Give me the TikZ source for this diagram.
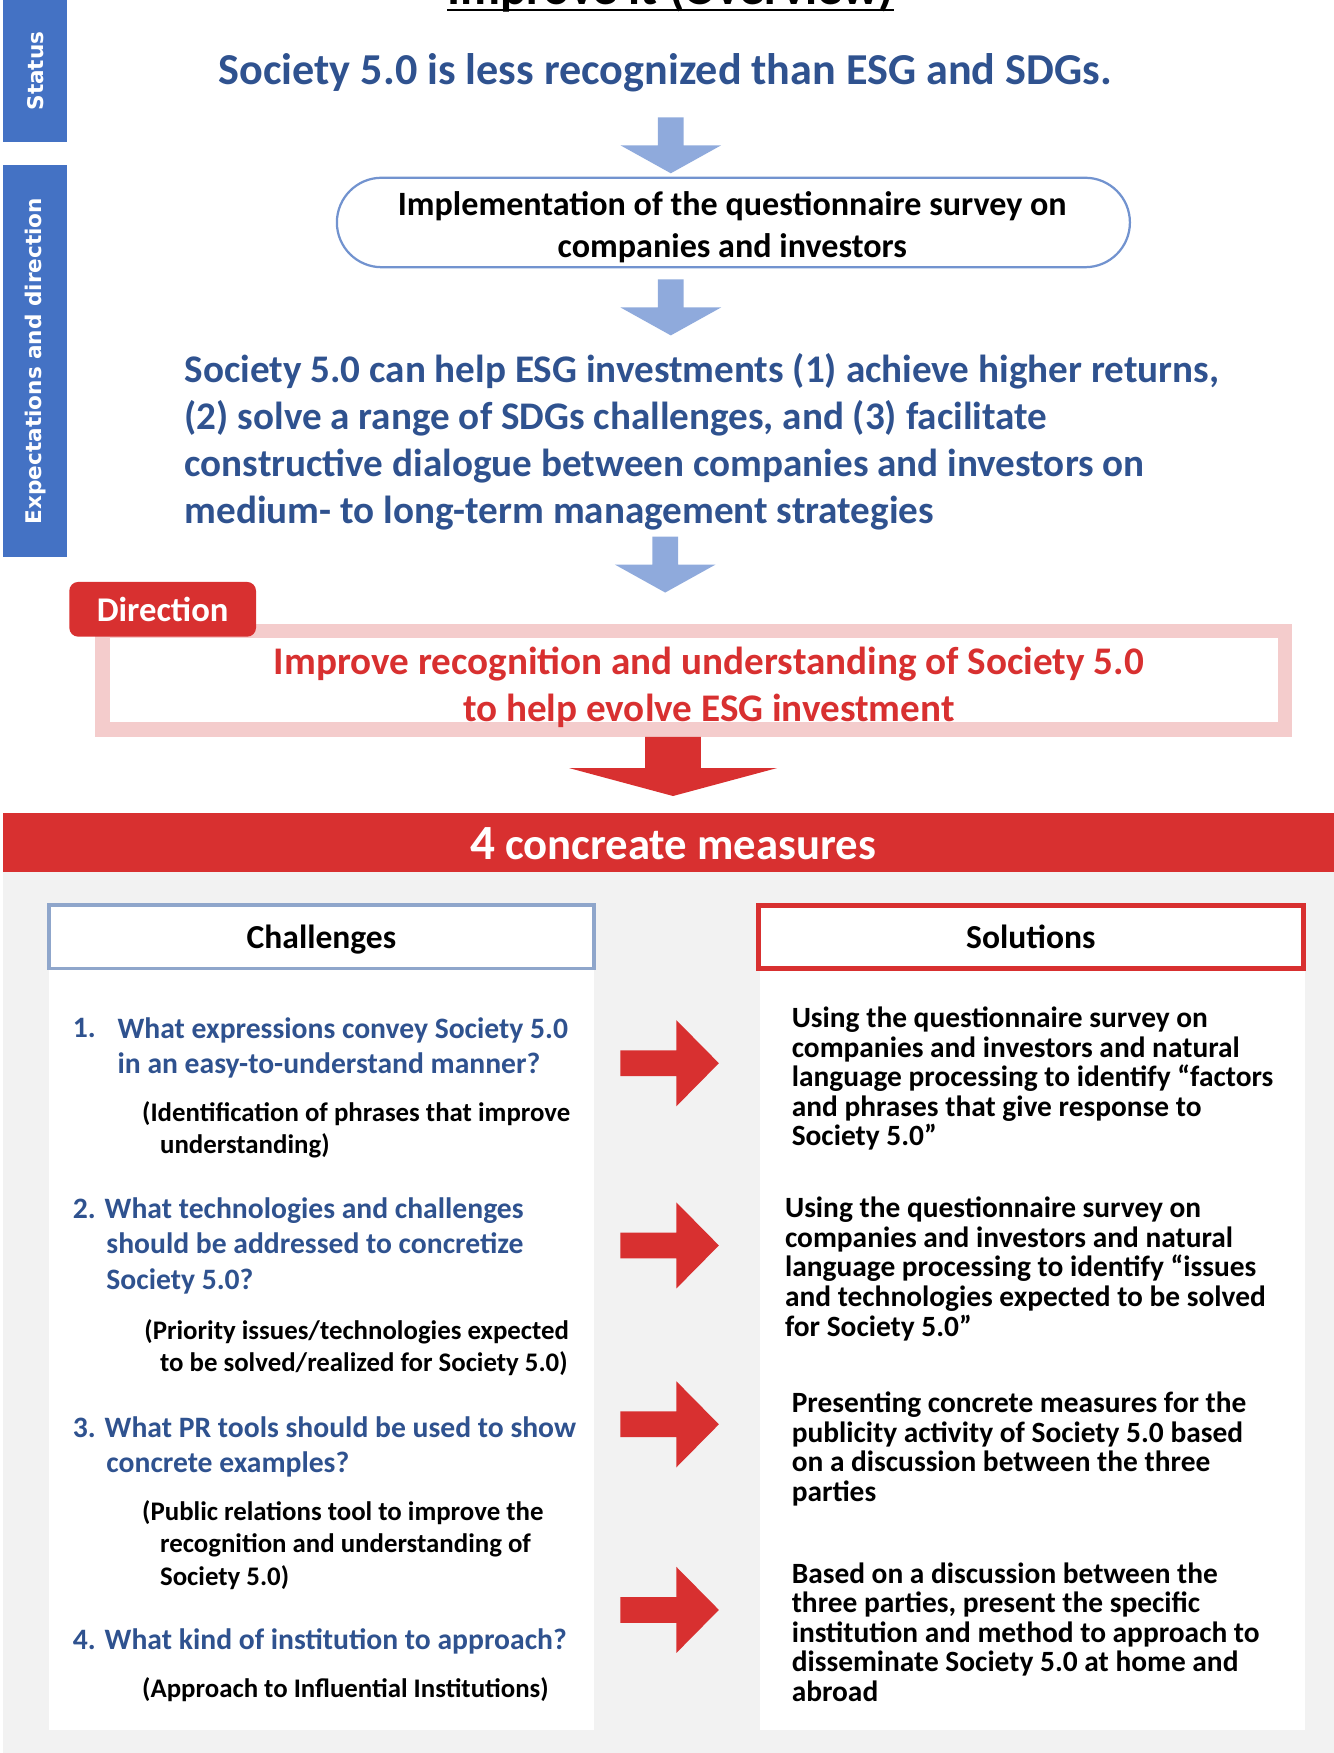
\documentclass[tikz,border=0pt]{standalone}
\usepackage{fontspec}
\setmainfont{Carlito}
\newfontfamily\barfont{DejaVu Sans}
\usepackage{xcolor}
\usepackage{tikz}
\usetikzlibrary{shapes.misc}

\definecolor{barblue}{RGB}{68,114,196}
\definecolor{txtblue}{RGB}{47,82,143}
\definecolor{arrowblue}{RGB}{143,170,220}
\definecolor{ovalblue}{RGB}{114,147,207}
\definecolor{mainred}{RGB}{216,48,48}
\definecolor{pinkline}{RGB}{244,204,204}
\definecolor{bggray}{RGB}{242,242,242}
\definecolor{headblue}{RGB}{143,166,203}

% multi-line nodes sit on the baseline of their last line
\tikzset{
  sidebar/.style={fill=barblue, text=white, rotate=90, minimum height=57pt, inner sep=0pt, font=\barfont\bfseries\fontsize{19.3}{21}\selectfont},
  bigline/.style={text=txtblue, inner sep=0pt, align=left, anchor=base west, font=\bfseries\fontsize{35}{42}\selectfont},
  item/.style={text=txtblue, inner sep=0pt, align=left, anchor=base west, font=\bfseries\fontsize{26.5}{31.5}\selectfont},
  note/.style={inner sep=0pt, align=left, anchor=base west, font=\bfseries\fontsize{24}{29}\selectfont},
  answer/.style={inner sep=0pt, align=left, anchor=base west, font=\bfseries\fontsize{26.3}{26.5}\selectfont},
  header/.style={draw, line width=3.5pt, fill=white, minimum width=487.5pt, minimum height=56.5pt, text depth=0pt, font=\bfseries\fontsize{30}{34}\selectfont}
}

\begin{document}
\begin{tikzpicture}[x=1pt, y=-1pt]
    \useasboundingbox (0,0) rectangle (1193,1568);
    \clip (0,0) rectangle (1193,1568);

    % title, cut at the top edge
    \node [anchor=base, inner sep=0pt, font=\bfseries\fontsize{44}{50}\selectfont] (title) at (600,4) {Improve it (Overview)};
    \draw [line width=2.5pt] ([yshift=-5pt]title.base west) -- ([yshift=-5pt]title.base east);

    % side bars
    \node [sidebar, minimum width=127pt] (status) at (31.5,63.5) {Status};
    \node [sidebar, minimum width=350pt] (expect) at (31.5,323) {Expectations and direction};

    % status and expectations
    \node [text=txtblue, anchor=base, inner sep=0pt, font=\bfseries\fontsize{39.5}{44}\selectfont] (now) at (595,76) {Society 5.0 is less recognized than ESG and SDGs.};
    \node [draw=ovalblue, line width=2pt, rounded rectangle, fill=white, minimum width=716pt, minimum height=80pt] (survey) at (656,199) {};
    \node [align=center, inner sep=0pt, anchor=base, font=\bfseries\fontsize{30.5}{37}\selectfont] (surveytext) at (655,230) {Implementation of the questionnaire survey on\\companies and investors};
    \node [bigline] (hope) at (165,468) {Society 5.0 can help ESG investments (1) achieve higher returns,\\(2) solve a range of SDGs challenges, and (3) facilitate\\constructive dialogue between companies and investors on\\medium- to long-term management strategies};

    % blue down arrows (tips)
    \coordinate (a1) at (600,155);
    \coordinate (a2) at (600,300);
    \coordinate (a3) at (595,530);
    \foreach \t in {a1,a2,a3}
        \fill [arrowblue] (\t) -- ++(-45,-25) -- ++(33.5,0) -- ++(0,-25) -- ++(23,0) -- ++(0,25) -- ++(33.5,0) -- cycle;

    % direction
    \node [draw=pinkline, line width=13pt, minimum width=1058pt, minimum height=88pt] (goalframe) at (620.5,608.5) {};
    \node [rounded corners=8pt, fill=mainred, text=white, minimum width=167pt, minimum height=49pt, font=\bfseries\fontsize{31}{34}\selectfont] (dirtab) at (145.5,545) {Direction};
    \node [text=mainred, align=center, inner sep=0pt, anchor=base, font=\bfseries\fontsize{35}{42}\selectfont] (goal) at (634,645) {Improve recognition and understanding of Society 5.0\\to help evolve ESG investment};

    % red down arrow
    \coordinate (a4) at (602,712);
    \fill [mainred] (a4) -- ++(-93,-25) -- ++(68,0) -- ++(0,-28) -- ++(50,0) -- ++(0,28) -- ++(68,0) -- cycle;

    % measures
    \fill [mainred] (3,727) rectangle (1193,780);
    \node [text=white, anchor=base, inner sep=0pt, font=\bfseries\fontsize{40}{44}\selectfont] (measures) at (602,769) {{\fontsize{44}{46}\selectfont 4} concreate measures};
    \fill [bggray] (3,780) rectangle (1193,1568);
    \fill [white] (44,866) rectangle (531,1547);
    \fill [white] (680,866) rectangle (1167,1547);
    \node [header, draw=headblue] (chal) at (287.5,838) {Challenges};
    \node [header, draw=mainred, line width=4pt] (sol) at (922,838) {Solutions};

    % challenges
    \node [item] (c1n) at (65,928) {1.};
    \node [item] (c1) at (105,960) {What expressions convey Society 5.0\\in an easy-to-understand manner?};
    \node [note] (c1note) at (127,1032) {(Identification of phrases that improve\\\hspace*{16pt}understanding)};
    \node [item] (c2) at (65,1153) {2. What technologies and challenges\\\hspace*{30pt}should be addressed to concretize\\\hspace*{30pt}Society 5.0?};
    \node [note] (c2note) at (129,1227) {(Priority issues/technologies expected\\\hspace*{14pt}to be solved/realized for Society 5.0)};
    \node [item] (c3) at (65,1317) {3. What PR tools should be used to show\\\hspace*{30pt}concrete examples?};
    \node [note] (c3note) at (127,1418) {(Public relations tool to improve the\\\hspace*{16pt}recognition and understanding of\\\hspace*{16pt}Society 5.0)};
    \node [item] (c4) at (65,1475) {4. What kind of institution to approach?};
    \node [note] (c4note) at (127,1518) {(Approach to Influential Institutions)};

    % right arrows
    \foreach \y [count=\i] in {951,1114,1274,1440} {
        \coordinate (r\i) at (643,\y);
        \fill [mainred] (r\i) -- ++(-38,-38.5) -- ++(0,27) -- ++(-50,0) -- ++(0,23) -- ++(50,0) -- ++(0,27) -- cycle;
    }

    % solutions
    \node [answer] (s1) at (708,1025) {Using the questionnaire survey on\\companies and investors and natural\\language processing to identify “factors\\and phrases that give response to\\Society 5.0”};
    \node [answer] (s2) at (702,1195) {Using the questionnaire survey on\\companies and investors and natural\\language processing to identify “issues\\and technologies expected to be solved\\for Society 5.0”};
    \node [answer] (s3) at (708,1343) {Presenting concrete measures for the\\publicity activity of Society 5.0 based\\on a discussion between the three\\parties};
    \node [answer] (s4) at (708,1522) {Based on a discussion between the\\three parties, present the specific\\institution and method to approach to\\disseminate Society 5.0 at home and\\abroad};
\end{tikzpicture}
\end{document}
